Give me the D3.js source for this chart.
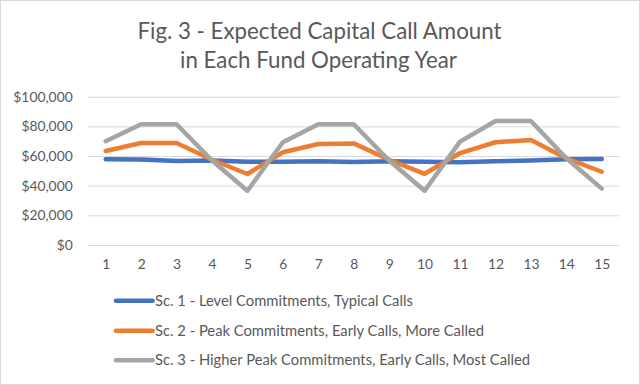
<!DOCTYPE html>
<html>
<head>
<meta charset="utf-8">
<script src="https://cdn.jsdelivr.net/npm/d3@7"></script>
<style>
  html, body { margin: 0; padding: 0; background: #fff; }
  svg { display: block; }
  text { font-family: Lato, "Open Sans", sans-serif; fill: #595959; }
</style>
</head>
<body>
<svg id="chart" width="640" height="385"></svg>
<script>
const titleLines = ["Fig. 3 - Expected Capital Call Amount", "in Each Fund Operating Year"];
const years = [1, 2, 3, 4, 5, 6, 7, 8, 9, 10, 11, 12, 13, 14, 15];
const seriesNames = [
  "Sc. 1 - Level Commitments, Typical Calls",
  "Sc. 2 - Peak Commitments, Early Calls, More Called",
  "Sc. 3 - Higher Peak Commitments, Early Calls, Most Called"
];
const sc1 = [57800, 57700, 56700, 57000, 56200, 56200, 56500, 56000, 56500, 56200, 55800, 56500, 57000, 57800, 58000];
const sc2 = [63400, 68800, 68800, 57500, 47900, 62500, 68100, 68500, 57500, 48000, 62000, 69300, 70800, 58500, 49400];
const sc3 = [70000, 81400, 81400, 57000, 36600, 69300, 81400, 81400, 57000, 36600, 69700, 83600, 83600, 58500, 38000];
const yTicks = [0, 20000, 40000, 60000, 80000, 100000];
const colors = ["#4472C4", "#ED7D31", "#A5A5A5"];

const svg = d3.select("#chart");

// outer border
svg.append("rect").attr("x", 0.5).attr("y", 0.5).attr("width", 639).attr("height", 384)
  .attr("fill", "#fff").attr("stroke", "#D9D9D9");

// helper to fit text to a target width
function fit(sel, target) {
  sel.each(function() {
    const el = d3.select(this);
    el.attr("font-size", 20);
    const w = this.getComputedTextLength();
    el.attr("font-size", (20 * target / w).toFixed(2));
  });
}

const x = d3.scalePoint().domain(years).range([88, 619.5]).padding(0.5);
const y = d3.scaleLinear().domain([0, 100000]).range([245, 96.7]);

// title
const t1 = svg.append("text").attr("x", 319.5).attr("y", 38.5).attr("text-anchor", "middle").text(titleLines[0]);
fit(t1, 364);
const t2 = svg.append("text").attr("x", 318.5).attr("y", 67.5).attr("text-anchor", "middle").text(titleLines[1]);
fit(t2, 277);

// y axis + gridlines
const yAxis = svg.append("g").attr("transform", "translate(88,0)")
  .call(d3.axisLeft(y).tickValues(yTicks).tickFormat(d3.format("$,")).tickSizeInner(-531.5).tickSizeOuter(0).tickPadding(15.3));
yAxis.select(".domain").remove();
yAxis.selectAll(".tick line").attr("stroke", "#D9D9D9").attr("stroke-width", 1);
yAxis.selectAll(".tick text").attr("fill", "#595959").attr("font-family", "Lato, 'Open Sans', sans-serif");
let yfs = 13;
yAxis.selectAll(".tick text").filter(d => d === 100000).each(function() {
  d3.select(this).attr("font-size", 20);
  yfs = 20 * 59.4 / this.getComputedTextLength();
});
yAxis.selectAll(".tick text").attr("font-size", yfs.toFixed(2));

// x axis
const xAxis = svg.append("g").attr("transform", "translate(0,245)")
  .call(d3.axisBottom(x).tickSize(0).tickPadding(14));
xAxis.select(".domain").remove();
xAxis.selectAll(".tick text").attr("fill", "#595959").attr("font-family", "Lato, 'Open Sans', sans-serif")
  .attr("font-size", yfs.toFixed(2));

// lines
const allSeries = [sc1, sc2, sc3];
const line = d3.line().x((d, i) => x(years[i])).y(d => y(d));
svg.append("g").selectAll("path").data(allSeries).join("path")
  .attr("d", d => line(d))
  .attr("fill", "none")
  .attr("stroke", (d, i) => colors[i])
  .attr("stroke-width", 4.5)
  .attr("stroke-linejoin", "round")
  .attr("stroke-linecap", "round");

// legend
const legendY = [300.7, 330.7, 360.3];
const legendWidths = [258, 328, 372];
const lg = svg.append("g").selectAll("g").data(seriesNames).join("g")
  .attr("transform", (d, i) => `translate(0,${legendY[i]})`);
lg.append("line").attr("x1", 116).attr("x2", 152.7).attr("y1", 0).attr("y2", 0)
  .attr("stroke", (d, i) => colors[i]).attr("stroke-width", 4.5).attr("stroke-linecap", "round");
let lfs = 14;
lg.append("text").attr("x", 155).attr("y", 0).attr("dy", "0.35em").text(d => d);
lg.select("text").filter((d, i) => i === 0).each(function() {
  d3.select(this).attr("font-size", 20);
  lfs = 20 * 258 / this.getComputedTextLength();
});
lg.selectAll("text").attr("font-size", lfs.toFixed(2));
</script>
</body>
</html>
